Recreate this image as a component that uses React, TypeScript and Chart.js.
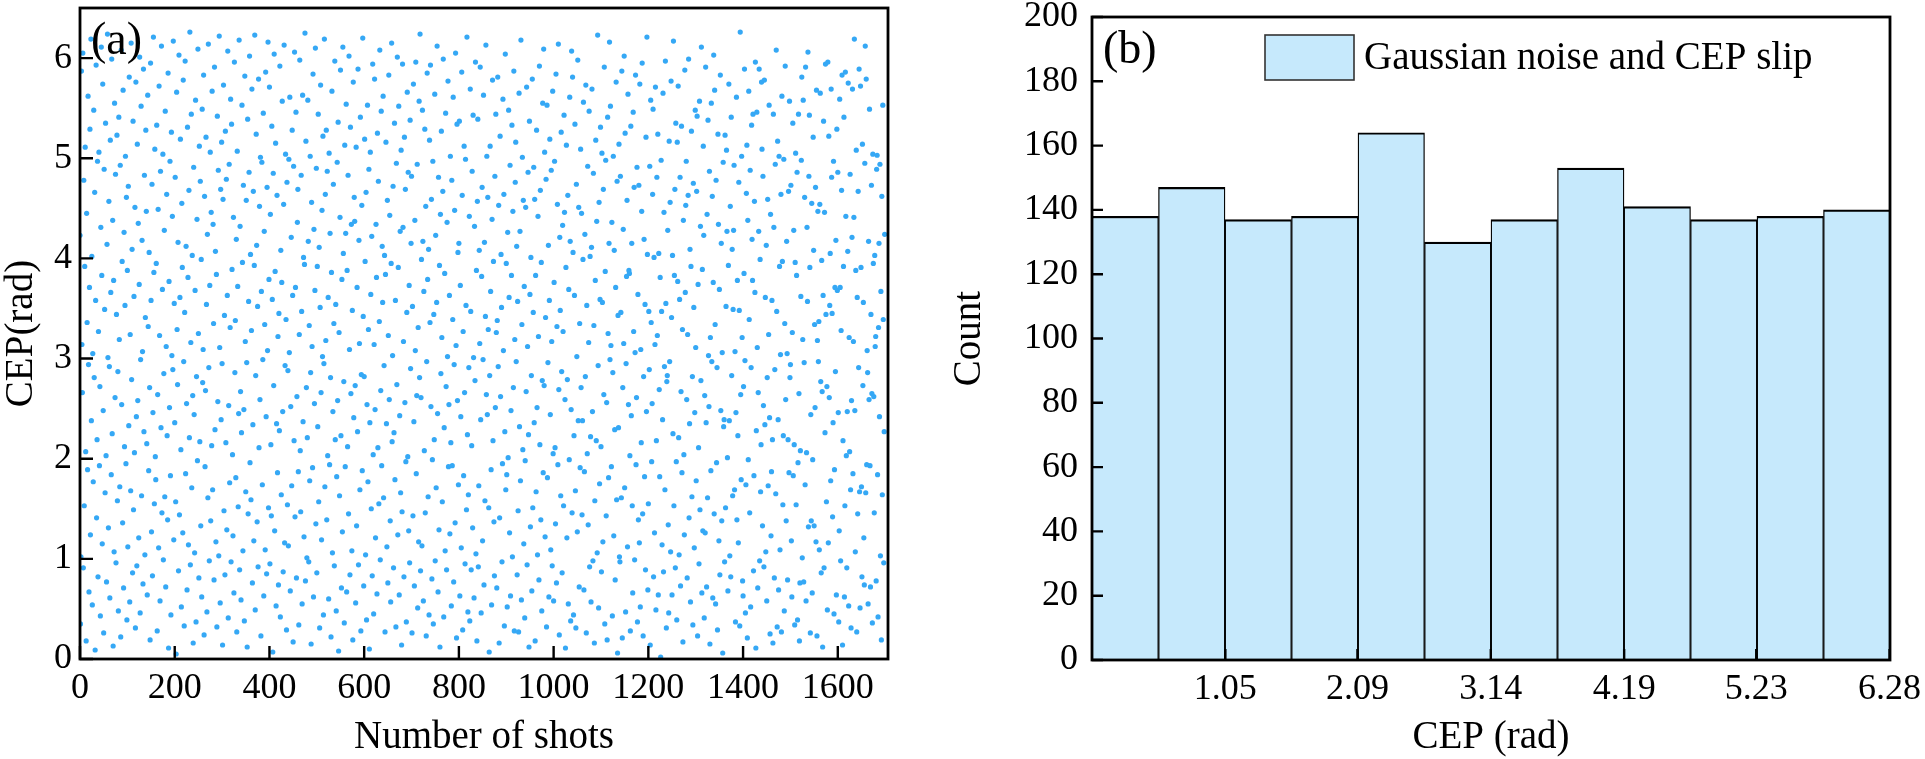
import React, { useEffect, useRef } from "react";
import { Chart, registerables } from "chart.js";

Chart.register(...registerables);

const FONT = "'Liberation Serif', 'Times New Roman', serif";

// ---------- Panel (a): CEP of every shot ----------
const cepPerShot: number[] = [
  4.23,0.35,1.02,5.87,3.14,2.66,6.05,0.91,4.78,1.53,3.92,5.11,2.07,0.18,4.45,3.36,1.89,5.62,2.94,0.67,
  3.71,5.29,1.24,6.19,2.38,4.02,0.54,3.05,1.77,5.48,2.81,4.66,0.09,3.58,5.93,1.41,2.19,4.97,0.82,3.27,
  5.06,1.93,2.72,0.43,4.31,6.11,3.83,1.15,5.74,2.48,0.26,4.89,3.49,1.66,5.35,2.03,0.77,4.14,6.24,3.01,
  1.31,4.57,2.92,0.61,5.18,3.66,1.84,5.99,2.25,4.38,0.13,3.78,1.07,5.55,2.61,4.84,0.96,3.44,5.23,1.58,
  2.87,0.48,5.41,3.19,1.72,4.93,0.22,6.08,2.54,3.97,1.36,5.68,0.71,4.26,2.12,3.53,5.02,1.95,4.61,0.39,
  3.88,1.12,4.72,2.33,5.81,0.57,3.24,1.68,6.15,2.79,4.09,0.86,5.37,1.49,3.62,2.06,4.51,0.31,5.76,2.42,
  0.93,5.14,2.58,4.35,1.21,3.74,6.01,0.46,2.99,5.52,1.63,4.18,3.07,0.75,5.89,2.27,4.83,1.04,3.41,5.28,
  4.47,2.15,0.64,5.63,3.32,1.88,4.06,2.71,0.19,5.95,3.58,1.27,4.74,0.83,2.46,6.21,3.86,1.55,5.09,2.02,
  1.79,3.95,5.33,0.28,2.64,4.49,1.11,5.72,3.23,0.58,4.87,2.31,6.12,1.46,3.69,5.04,0.99,2.85,4.28,1.62,
  5.47,0.72,3.12,4.64,2.23,1.39,5.85,0.11,3.77,2.51,4.97,1.83,0.44,5.26,3.03,4.42,2.89,6.17,1.19,3.55,
  2.36,4.81,1.57,0.05,5.66,3.29,2.74,4.16,0.88,6.03,1.44,3.61,5.19,2.09,0.52,4.55,3.91,1.26,5.78,2.97,
  0.33,3.46,5.97,1.85,4.12,2.55,0.69,5.31,3.81,1.14,4.68,2.21,6.26,0.94,3.16,5.44,1.71,4.03,2.63,0.16,
  4.91,2.44,1.06,3.68,5.58,0.37,2.82,4.39,1.98,6.09,3.25,0.81,5.12,2.17,4.77,1.33,3.99,0.62,5.49,2.76,
  3.09,5.83,0.24,4.62,1.92,2.68,5.21,3.54,0.47,4.24,1.61,6.14,2.91,0.98,3.73,5.06,1.38,4.46,2.13,5.67,
  1.69,4.34,3.35,0.79,5.91,2.29,4.07,1.17,3.84,0.32,5.42,2.57,4.88,1.03,6.22,3.11,0.56,4.69,2.39,5.16,
  2.95,0.14,4.59,5.73,1.48,3.43,0.84,5.27,2.16,4.79,1.29,3.63,6.07,0.41,2.53,4.94,1.76,3.31,5.59,0.97,
  5.34,3.89,2.04,1.23,4.41,0.66,5.96,2.86,3.38,1.81,4.19,0.27,5.07,3.72,1.52,2.45,6.18,0.89,4.32,2.67,
  0.59,2.26,5.53,3.96,1.08,4.73,2.49,0.38,5.82,3.17,1.67,4.58,2.96,0.12,5.39,1.45,3.57,4.86,6.02,1.96,
  4.04,1.59,3.28,5.69,0.76,2.34,4.67,1.18,3.93,6.23,0.49,2.83,5.24,4.13,1.37,3.52,0.92,5.79,2.11,4.52,
  2.59,5.01,0.23,3.67,4.96,1.74,2.99,5.45,0.63,4.27,3.34,1.09,5.86,2.42,0.85,4.71,3.08,6.16,1.51,3.79,
  5.71,0.95,4.44,2.14,1.43,5.32,3.59,0.07,4.85,2.73,6.04,1.28,3.87,5.15,0.53,2.35,4.63,1.86,3.22,0.74,
  3.45,2.28,5.92,0.42,4.08,1.64,3.76,5.57,2.47,0.87,4.54,6.13,1.16,2.93,5.04,3.39,0.29,4.76,1.54,2.88,
  1.13,4.99,3.06,5.61,0.68,2.52,4.21,1.73,5.28,3.63,0.17,4.92,2.18,6.06,1.42,3.71,5.46,0.81,2.62,4.36,
  4.69,1.87,0.34,3.24,5.98,2.08,1.47,4.83,3.47,0.55,5.63,2.37,4.01,1.22,3.94,6.25,0.78,5.17,2.71,1.01,
  2.21,5.58,4.17,0.97,3.33,1.78,5.02,2.86,0.15,4.56,3.12,1.91,5.84,0.62,4.29,2.55,3.68,6.10,1.35,4.90,
  0.86,3.92,2.32,5.44,1.57,4.11,0.31,3.51,5.73,2.66,1.19,4.48,3.02,5.22,0.44,2.95,6.19,1.72,4.64,3.18,
  5.28,1.39,4.87,2.03,3.61,0.60,5.05,1.94,4.25,2.81,0.22,3.86,5.67,1.06,2.47,4.74,3.35,0.93,5.97,2.19,
  3.54,0.48,1.82,4.96,2.58,5.36,0.08,3.26,1.63,4.41,5.88,2.23,0.71,3.79,1.27,6.11,4.05,2.77,0.36,5.13,
  1.92,4.25,5.54,0.67,3.88,2.12,4.83,1.45,6.02,3.09,0.84,5.31,2.65,4.34,1.08,3.48,0.19,5.76,2.41,4.61,
  4.37,2.73,0.56,5.11,1.33,3.71,2.27,5.89,0.94,4.18,3.15,1.69,5.41,0.28,2.84,4.53,1.88,6.20,3.42,0.73,
  2.82,5.19,3.97,1.04,4.66,0.39,2.54,5.53,1.77,3.29,4.89,0.10,2.36,5.06,3.64,1.50,4.22,0.83,5.94,2.04,
  0.45,3.14,5.79,2.49,1.21,4.34,3.81,0.65,5.25,2.11,4.77,1.55,3.37,6.08,0.99,2.68,5.47,1.93,4.12,3.56,
  5.62,1.61,2.93,4.03,0.27,3.84,5.16,2.35,1.12,4.58,0.76,3.23,5.83,2.59,4.43,1.38,0.57,3.95,6.15,2.17,
  3.03,4.72,0.91,2.26,5.35,1.79,3.58,0.32,4.95,2.74,6.01,1.24,3.91,5.52,0.64,2.43,4.27,1.66,5.08,0.14,
  1.47,5.94,4.31,3.17,0.82,5.21,2.56,4.69,1.97,0.37,3.46,5.66,2.02,4.86,1.28,3.73,0.96,5.38,2.90,4.15,
  4.82,0.26,3.52,1.43,5.74,2.37,0.73,4.38,3.08,5.96,1.85,2.63,4.94,0.51,3.31,1.17,5.57,2.81,6.24,0.88,
  2.61,3.99,1.13,5.48,4.17,0.58,3.67,2.08,5.29,1.46,4.52,0.23,2.97,5.85,3.79,1.62,4.09,0.44,5.18,3.36,
  5.93,2.52,4.59,0.80,1.99,4.97,0.35,3.44,2.19,5.64,0.98,4.23,1.71,3.56,6.12,2.45,0.67,4.81,1.29,3.93,
  0.12,4.44,2.85,5.27,3.21,1.57,4.67,5.99,0.42,2.31,3.85,1.08,5.45,2.72,0.89,4.36,3.02,5.77,1.92,2.54,
  3.63,1.25,5.02,2.16,0.53,4.78,1.93,3.39,5.61,0.77,2.94,4.48,1.36,6.05,3.13,0.21,5.34,2.58,4.06,1.74,
  4.15,5.37,0.63,3.73,2.42,1.11,5.86,4.63,0.29,3.27,1.83,5.12,2.66,0.95,4.99,3.53,1.49,6.21,2.24,0.47,
  1.64,2.91,4.42,0.38,5.69,3.47,0.89,2.13,4.87,1.31,5.43,3.01,0.61,4.32,2.78,5.96,1.05,3.88,0.18,4.57,
  5.39,0.92,1.73,4.08,3.15,5.91,2.39,0.46,3.82,4.71,1.18,2.99,5.63,0.74,4.16,1.58,3.42,6.13,2.64,5.02,
  2.44,4.61,3.29,1.51,0.07,2.83,5.12,3.67,1.89,0.54,4.39,5.78,2.18,3.97,1.37,0.83,4.82,2.51,5.44,3.26,
  0.71,3.38,5.81,2.92,4.53,0.16,1.41,5.22,2.62,4.04,3.51,0.97,1.95,5.59,3.08,4.64,0.33,2.27,6.04,1.69,
  3.95,1.84,0.52,4.26,2.01,5.48,3.61,1.26,4.93,0.63,2.48,3.83,5.33,1.02,4.47,2.71,5.87,0.28,3.19,4.76,
  5.16,2.97,4.12,0.84,3.57,1.48,0.27,5.65,2.32,4.27,1.78,6.18,0.59,3.34,5.01,2.09,4.58,1.15,3.72,0.41,
  1.98,4.51,2.67,5.71,0.94,3.12,4.86,2.24,0.12,5.37,3.64,1.32,4.01,2.83,0.68,5.79,1.51,3.46,4.91,2.36,
  4.59,0.18,3.83,1.67,5.28,2.51,1.04,4.42,3.22,0.79,5.92,2.14,4.68,1.39,3.96,0.48,2.78,5.55,1.86,6.09,
  2.73,5.06,1.22,3.41,4.79,0.32,5.53,1.81,2.96,4.13,0.62,3.58,5.19,2.44,1.09,4.88,3.17,0.93,5.67,2.05,
  0.58,3.76,4.97,2.11,1.35,5.84,0.76,3.32,4.54,1.94,6.14,2.69,0.24,4.21,3.48,1.63,5.26,2.87,0.86,4.33,
  3.27,1.53,5.43,4.46,2.59,0.11,3.91,5.13,1.21,2.79,4.63,0.55,3.69,1.99,5.61,4.17,0.38,2.49,6.07,1.46,
  5.81,4.06,0.44,2.23,3.63,5.34,1.68,0.31,4.74,3.02,1.27,5.98,2.38,4.51,0.72,3.35,1.91,5.09,2.71,4.45,
  1.44,2.38,3.99,5.56,0.69,1.87,4.24,2.82,5.73,0.26,3.53,2.05,4.92,1.34,3.16,5.47,0.92,4.02,2.22,0.57,
  4.11,5.69,2.47,0.98,4.85,3.33,0.16,1.58,3.78,5.18,2.18,4.37,1.06,6.23,2.93,0.51,4.56,1.75,3.59,5.31,
  2.12,0.87,5.05,3.56,1.17,4.69,2.64,5.91,0.35,3.87,4.98,1.43,2.56,0.19,5.41,3.25,1.81,4.15,6.16,2.99,
  5.52,3.13,1.92,4.36,0.43,2.86,5.02,1.23,4.08,2.29,0.79,3.71,5.76,1.59,4.77,0.06,3.43,2.31,5.14,1.02,
  0.97,4.82,3.46,1.61,5.87,0.21,2.71,4.29,3.15,6.02,1.71,5.25,0.47,2.95,3.82,4.58,1.12,5.64,2.54,3.88,
  3.85,2.03,0.28,5.32,2.43,4.15,1.53,0.66,5.46,3.27,4.71,0.99,3.06,5.83,1.94,2.61,4.91,0.37,3.64,1.39,
  4.73,1.16,5.74,0.52,3.09,2.16,4.47,5.95,1.45,0.23,2.82,4.19,1.82,3.54,0.89,5.21,2.47,6.21,4.04,0.69,
  1.55,3.47,2.89,4.92,0.14,5.58,3.36,1.97,2.55,4.64,5.49,0.82,4.01,1.26,3.14,5.71,0.49,2.18,4.81,3.23,
  5.24,0.64,4.05,2.69,1.82,3.81,0.02,4.98,3.47,1.14,2.39,5.65,0.87,4.46,2.92,1.69,5.97,3.55,0.31,2.77,
  2.83,4.28,1.34,0.46,5.17,2.97,4.56,1.07,5.77,3.41,0.64,4.03,2.25,6.17,1.53,3.83,4.69,0.91,5.35,1.97,
  0.39,5.16,3.77,5.72,2.21,1.04,3.59,4.81,0.73,2.67,5.32,1.86,3.29,0.17,4.38,2.04,1.24,5.88,3.66,4.53,
  4.97,2.59,0.81,3.24,4.63,5.99,1.41,2.35,4.09,0.57,3.92,5.27,1.62,2.82,0.34,4.75,3.51,1.11,2.46,5.48,
  3.11,1.78,4.67,5.42,0.23,3.74,2.11,0.95,5.57,1.49,4.32,2.78,6.11,0.66,3.89,1.28,5.12,4.23,0.41,2.63,
  1.26,5.91,2.36,0.72,4.44,1.61,5.38,3.03,2.52,4.87,0.15,3.21,1.88,5.55,2.97,4.62,0.61,3.76,6.03,1.45,
  5.68,3.34,0.55,4.78,1.96,2.91,0.29,5.24,4.34,1.18,3.69,0.84,5.83,2.48,4.15,1.38,3.06,0.06,4.96,2.32,
  2.39,0.97,5.23,1.51,3.52,5.08,4.27,2.01,0.68,3.93,5.74,2.38,1.03,4.52,0.82,5.41,2.83,4.09,1.63,3.49,
  4.28,4.93,1.69,3.07,0.37,2.46,5.61,1.39,3.78,2.23,1.16,4.76,3.48,0.33,6.26,2.64,1.79,5.02,3.21,0.78,
  0.63,2.72,3.85,5.89,2.98,0.46,1.74,4.65,5.13,0.21,4.38,1.99,5.67,3.39,1.46,4.88,0.52,2.91,5.33,4.19,
  3.78,5.44,0.88,1.83,4.57,3.66,5.96,0.11,2.28,5.46,3.11,0.71,2.66,4.27,5.89,0.98,3.99,1.67,2.14,5.76,
  5.09,1.33,4.82,2.53,0.92,5.78,2.34,3.61,1.07,4.13,0.58,2.81,4.59,1.73,3.24,5.53,2.41,0.25,4.44,1.23,
  1.87,3.58,2.19,0.16,5.44,4.31,0.81,2.89,4.94,1.65,6.08,3.47,0.32,5.17,2.39,0.69,5.02,3.92,1.09,3.04,
  4.64,0.27,5.62,3.97,1.54,2.23,4.99,0.48,3.35,5.92,2.59,1.38,4.17,3.05,0.79,2.19,4.67,1.86,5.57,2.81,
  2.94,4.73,1.18,0.62,3.26,5.35,1.83,4.28,2.14,0.34,3.96,5.05,1.54,3.83,4.86,0.39,1.96,5.44,2.65,0.18,
  0.76,2.08,3.62,4.98,5.81,1.01,3.19,5.58,0.77,2.96,4.61,1.74,5.91,0.58,2.06,4.31,3.57,6.06,1.32,4.82,
  5.43,3.91,0.26,2.44,1.38,4.55,0.66,1.99,5.21,4.08,1.33,3.34,2.51,4.71,1.17,5.68,0.23,3.18,4.47,2.97,
  3.37,1.09,4.54,5.65,2.77,0.86,3.98,2.67,0.12,3.63,5.37,0.91,4.46,2.26,5.94,3.44,1.57,2.72,0.49,5.96,
  1.16,5.22,2.61,3.53,4.05,1.78,5.69,4.81,3.45,1.42,2.36,4.97,0.45,1.89,3.71,2.87,4.18,0.64,5.29,3.68,
  4.86,2.46,0.37,1.28,5.59,3.71,0.98,3.28,4.68,5.83,0.14,2.18,3.92,5.41,0.62,1.53,5.86,4.42,2.03,0.91,
  2.47,4.07,5.75,0.53,3.21,2.07,4.84,1.69,0.31,2.58,4.21,5.69,1.85,3.17,4.41,6.19,2.48,1.07,3.88,5.08,
  0.27,3.61,1.45,4.67,2.91,5.89,1.67,0.51,5.72,3.91,1.72,0.82,5.14,2.73,3.56,1.21,0.74,4.95,6.12,1.66,
  5.79,1.94,3.08,2.86,0.55,4.17,2.59,5.49,1.93,0.72,3.44,4.73,2.65,0.36,5.04,3.95,2.62,1.46,4.03,3.12,
  3.22,0.78,4.89,5.03,1.84,0.42,3.31,4.15,2.42,4.94,1.03,3.67,0.19,4.62,1.64,5.53,3.39,0.96,2.27,4.24,
];
const shotTicks = [0, 200, 400, 600, 800, 1000, 1200, 1400, 1600];
const cepTicks = [0, 1, 2, 3, 4, 5, 6];

// ---------- Panel (b): histogram ----------
const histCounts = [138, 147, 137, 138, 164, 130, 137, 153, 141, 137, 138, 140];
const histTickValues = [1.05, 2.09, 3.14, 4.19, 5.23, 6.28];
const countTicks = [0, 20, 40, 60, 80, 100, 120, 140, 160, 180, 200];
const legendLabel = "Gaussian noise and CEP slip";

const SCATTER_COLOR = "#35A8F5";
const BAR_COLOR = "#C6E9FC";

const framePlugin: any = {
  id: "frame",
  afterDraw(chart: any, _args: any, opts: any) {
    const { ctx, chartArea: a, scales } = chart;
    ctx.save();
    ctx.strokeStyle = "#000";
    ctx.lineCap = "butt";
    // inward ticks
    ctx.lineWidth = 2.4;
    ctx.beginPath();
    scales.x.ticks.forEach((t: any) => {
      const px = scales.x.getPixelForValue(t.value);
      ctx.moveTo(px, a.bottom);
      ctx.lineTo(px, a.bottom - opts.tick);
    });
    scales.y.ticks.forEach((t: any) => {
      const py = scales.y.getPixelForValue(t.value);
      ctx.moveTo(a.left, py);
      ctx.lineTo(a.left + opts.tick, py);
    });
    ctx.stroke();
    // box
    ctx.lineWidth = 2.8;
    ctx.strokeRect(a.left, a.top, a.right - a.left, a.bottom - a.top);
    // panel label
    ctx.fillStyle = "#000";
    ctx.textAlign = "left";
    ctx.textBaseline = "alphabetic";
    ctx.font = `${opts.labelSize}px ${FONT}`;
    ctx.fillText(opts.label, a.left + 11, a.top + 46);
    // legend
    if (opts.legend) {
      const ds = chart.data.datasets[0];
      const bx = a.left + 173;
      const by = a.top + 18;
      const bw = 89;
      const bh = 45;
      ctx.fillStyle = ds.backgroundColor;
      ctx.fillRect(bx, by, bw, bh);
      ctx.lineWidth = 1.6;
      ctx.strokeStyle = "#333";
      ctx.strokeRect(bx, by, bw, bh);
      ctx.fillStyle = "#000";
      ctx.font = `39px ${FONT}`;
      ctx.textBaseline = "middle";
      ctx.fillText(ds.label, bx + bw + 10, by + bh / 2 + 1);
    }
    ctx.restore();
  },
};

function zeroPad(scale: any) {
  scale.paddingTop = 0;
  scale.paddingBottom = 0;
  scale.paddingLeft = 0;
  scale.paddingRight = 0;
}

export default function App() {
  const leftRef = useRef<HTMLCanvasElement>(null);
  const rightRef = useRef<HTMLCanvasElement>(null);

  useEffect(() => {
    Chart.defaults.font.family = FONT;
    Chart.defaults.color = "#000";

    const scatter = new Chart(leftRef.current as HTMLCanvasElement, {
      type: "scatter",
      data: {
        datasets: [
          {
            label: "CEP",
            data: cepPerShot.map((v, i) => ({ x: i, y: v })),
            pointRadius: 2.6,
            pointBackgroundColor: SCATTER_COLOR,
            pointBorderWidth: 0,
            showLine: false,
          },
        ],
      },
      options: {
        animation: false,
        responsive: true,
        maintainAspectRatio: false,
        events: [],
        layout: { padding: { left: 0, right: 42, top: 8, bottom: 0 } },
        plugins: {
          legend: { display: false },
          tooltip: { enabled: false },
          frame: { tick: 13, label: "(a)", labelSize: 46, legend: false },
        } as any,
        scales: {
          x: {
            type: "linear",
            min: 0,
            max: 1706,
            grid: { display: false, drawTicks: false },
            border: { display: false },
            afterBuildTicks: (s: any) => {
              s.ticks = shotTicks.map((v) => ({ value: v }));
            },
            afterFit: (s: any) => {
              s.height = 100;
              zeroPad(s);
            },
            ticks: {
              autoSkip: false,
              maxRotation: 0,
              padding: 8,
              font: { size: 36 },
              callback: (v: any) => String(v),
            },
            title: {
              display: true,
              text: "Number of shots",
              font: { size: 39, lineHeight: 1.1 },
              padding: { top: 0, bottom: 0 },
            },
          },
          y: {
            type: "linear",
            min: 0,
            max: 6.5,
            grid: { display: false, drawTicks: false },
            border: { display: false },
            afterBuildTicks: (s: any) => {
              s.ticks = cepTicks.map((v) => ({ value: v }));
            },
            afterFit: (s: any) => {
              s.width = 80;
              zeroPad(s);
            },
            ticks: {
              autoSkip: false,
              padding: 8,
              font: { size: 36 },
              callback: (v: any) => String(v),
            },
            title: {
              display: true,
              text: "CEP(rad)",
              font: { size: 39, lineHeight: 1.1 },
              padding: { top: 0, bottom: 0 },
            },
          },
        },
      } as any,
      plugins: [framePlugin],
    });

    const binWidth = (2 * Math.PI) / histCounts.length;
    const hist = new Chart(rightRef.current as HTMLCanvasElement, {
      type: "bar",
      data: {
        datasets: [
          {
            label: legendLabel,
            data: histCounts.map((c, i) => ({ x: (i + 0.5) * binWidth, y: c })),
            backgroundColor: BAR_COLOR,
            borderColor: "#000",
            borderWidth: { top: 2.2, left: 1.3, right: 1.3, bottom: 0 },
            barPercentage: 1,
            categoryPercentage: 1,
          },
        ],
      },
      options: {
        animation: false,
        responsive: true,
        maintainAspectRatio: false,
        events: [],
        layout: { padding: { left: 0, right: 35, top: 17, bottom: 0 } },
        plugins: {
          legend: { display: false },
          tooltip: { enabled: false },
          frame: { tick: 11, label: "(b)", labelSize: 46, legend: true },
        } as any,
        scales: {
          x: {
            type: "linear",
            min: 0,
            max: 2 * Math.PI,
            offset: false,
            grid: { display: false, drawTicks: false },
            border: { display: false },
            afterBuildTicks: (s: any) => {
              s.ticks = histTickValues.map((v) => ({ value: v }));
            },
            afterFit: (s: any) => {
              s.height = 99;
              zeroPad(s);
            },
            ticks: {
              autoSkip: false,
              maxRotation: 0,
              padding: 8,
              font: { size: 36 },
              callback: (v: any) => String(v),
            },
            title: {
              display: true,
              text: "CEP (rad)",
              font: { size: 39, lineHeight: 1.1 },
              padding: { top: 0, bottom: 0 },
            },
          },
          y: {
            type: "linear",
            min: 0,
            max: 200,
            grid: { display: false, drawTicks: false },
            border: { display: false },
            afterBuildTicks: (s: any) => {
              s.ticks = countTicks.map((v) => ({ value: v }));
            },
            afterFit: (s: any) => {
              s.width = 162;
              zeroPad(s);
            },
            ticks: {
              autoSkip: false,
              padding: 14,
              font: { size: 36 },
              callback: (v: any) => String(v),
            },
            title: {
              display: true,
              text: "Count",
              font: { size: 39, lineHeight: 1.1 },
              padding: { top: 18, bottom: 0 },
            },
          },
        },
      } as any,
      plugins: [framePlugin],
    });

    return () => {
      scatter.destroy();
      hist.destroy();
    };
  }, []);

  return (
    <div
      style={{
        position: "fixed",
        left: 0,
        top: 0,
        width: 1925,
        height: 759,
        background: "#fff",
      }}
    >
      <div style={{ position: "absolute", left: 0, top: 0, width: 930, height: 759 }}>
        <canvas ref={leftRef} />
      </div>
      <div style={{ position: "absolute", left: 930, top: 0, width: 995, height: 759 }}>
        <canvas ref={rightRef} />
      </div>
    </div>
  );
}
